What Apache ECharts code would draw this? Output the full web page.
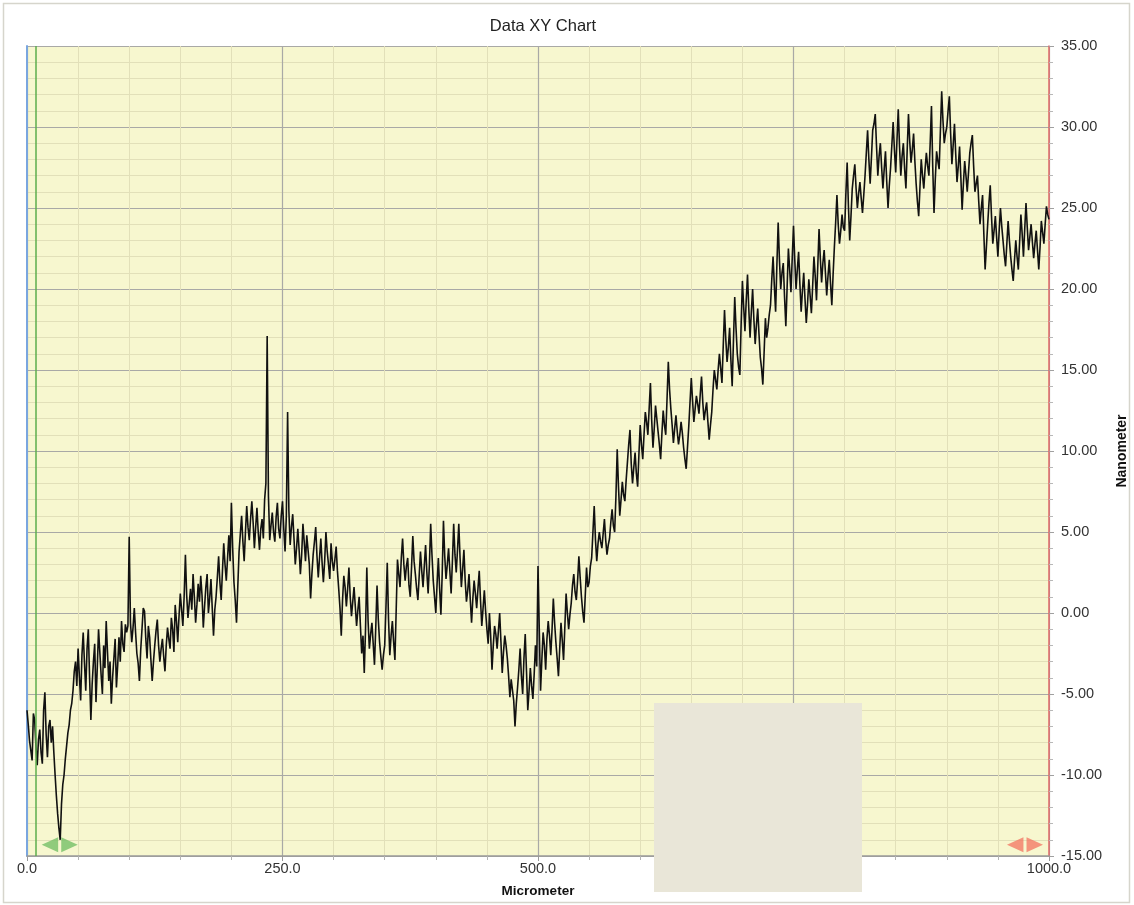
<!DOCTYPE html>
<html>
<head>
<meta charset="utf-8">
<title>Data XY Chart</title>
<script src="https://cdn.jsdelivr.net/npm/echarts@6/dist/echarts.min.js"></script>
<style>
  html, body { margin: 0; padding: 0; background: #ffffff; }
  #chart { width: 1134px; height: 905px; }
</style>
</head>
<body>
<div id="chart"></div>
<script>
// Profile sampled every 1.25 micrometer, height in nanometer (20 samples per row = 25 micrometer)
const STEP_UM = 1.25;
const nanometer = [
  -6.0,-6.9,-7.9,-8.5,-9.1,-6.2,-6.6,-8.2,-9.4,-7.8,-7.2,-8.6,-9.3,-6.0,-4.9,-7.5,-8.9,-7.0,-6.6,-8.0,
  -7.0,-8.6,-10.0,-11.3,-12.4,-13.3,-14.0,-11.8,-10.6,-10.0,-9.0,-8.2,-7.4,-6.9,-6.0,-5.6,-4.8,-3.6,-3.0,-4.5,
  -2.2,-3.9,-5.4,-2.6,-1.2,-3.1,-4.8,-2.2,-1.0,-4.0,-6.6,-4.4,-3.0,-1.9,-5.5,-3.4,-1.0,-2.4,-3.8,-5.0,
  -2.0,-3.4,-0.5,-2.4,-4.2,-3.0,-5.6,-4.0,-2.8,-1.6,-4.6,-3.2,-1.5,-3.0,-0.5,-1.9,-2.4,-0.7,-1.2,-0.8,
  4.7,-0.6,-1.8,-0.9,0.3,-1.2,-2.5,-3.1,-4.2,-2.3,-1.0,0.3,0.1,-1.6,-2.8,-0.8,-1.5,-2.9,-4.2,-3.0,
  -2.0,-1.1,-0.4,-2.0,-3.0,-2.2,-1.6,-2.7,-3.6,-2.0,-0.9,-1.6,-2.2,-0.3,-1.0,-2.4,0.5,-0.5,-1.8,-0.2,
  1.2,0.2,-0.8,1.0,3.6,1.1,-0.3,0.6,1.5,0.2,2.4,1.0,-0.6,0.5,1.8,0.7,2.3,1.1,-0.9,0.4,
  1.6,2.4,0.0,0.9,2.1,0.3,-1.4,0.2,1.0,2.2,3.5,1.9,0.8,2.6,4.3,3.0,2.0,3.4,4.8,3.2,
  6.8,4.0,1.9,0.8,-0.6,1.6,3.8,4.9,6.0,4.4,3.2,5.0,6.6,5.3,4.5,5.8,6.9,5.6,4.0,5.3,
  6.5,5.0,3.9,5.2,5.8,4.6,7.0,8.0,17.1,7.2,4.5,5.4,6.2,5.0,4.4,5.9,6.8,5.2,4.6,6.0,
  6.9,5.2,3.8,6.0,12.4,6.3,4.2,5.3,6.1,4.6,3.0,4.0,5.2,3.9,2.4,3.6,5.5,4.4,3.2,4.8,
  4.9,3.0,0.9,2.4,3.6,4.4,5.3,3.5,2.2,3.4,4.6,3.1,1.9,3.2,5.0,3.8,3.0,2.1,4.3,3.2,
  2.6,3.3,4.1,2.6,1.5,0.3,-1.4,0.8,2.3,1.6,0.4,1.5,2.8,1.0,-0.2,0.7,1.6,0.4,-0.8,0.2,
  1.0,-0.8,-2.5,-1.4,-3.7,-1.0,2.8,-0.5,-2.2,-1.3,-0.6,-1.9,-3.2,-0.9,1.7,-0.4,-1.8,-2.7,-3.5,-2.6,
  -2.0,0.4,3.1,-0.4,-2.6,-1.4,-0.5,-1.8,-2.9,0.2,3.3,2.4,1.6,3.4,4.6,3.0,2.0,2.9,3.4,1.7,
  1.0,2.8,4.75,3.2,2.4,1.5,0.8,2.3,3.8,2.6,1.6,2.9,4.2,2.5,1.2,3.0,5.5,3.6,2.0,1.0,
  0.0,1.8,3.4,1.5,-0.1,2.4,5.7,3.5,2.1,3.0,4.0,2.6,1.2,3.2,5.5,3.6,2.5,3.9,5.5,3.4,
  1.6,2.7,3.9,2.0,0.7,1.4,2.4,0.8,-0.6,0.9,2.0,1.2,0.3,1.5,2.6,0.8,-0.8,0.3,1.4,0.1,
  -1.0,-1.9,0.0,-1.5,-3.5,-2.0,-0.8,-1.3,-2.2,-1.1,0.0,-1.8,-3.7,-2.4,-1.4,-2.0,-2.8,-3.9,-5.2,-4.1,
  -4.0,-5.4,-7.0,-5.6,-4.6,-3.5,-2.2,-3.9,-5.0,-2.8,-1.3,-3.6,-6.0,-4.8,-3.4,-4.5,-5.3,-3.8,-2.0,-3.3,
  2.9,-1.0,-4.8,-2.9,-1.2,-2.0,-3.5,-1.6,-0.5,-1.4,-2.6,-1.0,0.9,-0.6,-1.8,-2.8,-3.9,-2.2,-0.6,-1.7,
  -2.9,-0.9,1.2,0.0,-1.0,-0.1,0.6,1.7,2.4,1.3,0.8,2.0,3.5,2.2,1.0,0.1,-0.6,1.1,2.8,1.6,
  1.9,2.9,3.4,5.0,6.6,4.5,3.2,4.3,5.0,4.4,4.0,4.9,5.8,4.5,3.6,4.2,4.6,5.6,6.4,5.4,
  5.0,7.2,10.1,7.8,6.0,7.0,8.1,7.3,6.9,8.2,9.3,10.4,11.3,9.2,8.0,9.0,9.9,8.6,7.8,9.8,
  11.6,10.4,9.5,11.0,12.4,11.8,11.0,12.6,14.2,11.9,10.2,11.4,12.8,12.0,11.2,10.4,9.5,11.1,12.5,11.6,
  11.0,13.2,15.5,13.8,12.6,11.6,10.5,11.4,12.2,11.2,10.4,11.0,11.8,11.1,10.2,9.5,8.9,10.2,11.5,13.0,
  14.5,13.1,11.8,12.6,13.4,12.9,12.3,13.5,14.6,13.0,11.9,12.5,13.0,11.8,10.7,11.6,12.4,13.8,15.0,14.4,
  13.8,15.0,16.0,15.1,14.2,16.5,18.7,16.9,15.5,16.4,17.6,15.6,14.0,16.8,19.5,17.6,16.0,15.2,14.7,17.8,
  20.5,18.9,17.4,19.3,20.9,18.8,17.0,18.6,20.0,18.1,16.6,17.8,18.8,17.2,15.8,15.1,14.1,16.1,18.2,17.0,
  17.6,18.4,19.0,20.6,22.0,20.2,18.6,21.5,24.1,21.8,20.0,21.0,21.6,19.5,17.7,20.1,22.5,21.2,19.8,21.9,
  23.9,21.8,20.0,21.2,22.3,20.3,18.6,19.9,21.0,19.4,17.9,19.1,20.6,19.6,18.5,20.2,22.0,20.8,19.3,21.4,
  23.7,21.9,20.4,21.6,22.4,21.0,19.6,20.8,21.8,20.3,19.0,20.9,22.6,24.1,25.8,24.0,22.8,23.6,24.6,23.8,
  23.6,25.9,27.8,25.1,23.0,24.5,26.2,27.0,27.7,26.2,25.0,25.9,26.6,25.6,24.7,25.8,27.0,28.4,29.8,28.0,
  26.5,28.1,29.8,30.2,30.8,28.8,27.0,28.2,29.0,27.5,26.2,27.4,28.5,26.6,25.0,26.4,27.5,28.9,30.3,28.6,
  27.2,29.2,31.1,28.8,27.0,28.2,29.0,27.4,26.2,28.6,30.8,29.1,27.8,28.6,29.6,27.9,26.5,25.4,24.5,26.3,
  28.0,27.0,26.2,27.4,28.4,27.6,27.0,29.0,31.3,27.5,24.7,26.8,28.5,27.9,27.4,29.8,32.2,30.4,29.0,29.6,
  30.0,31.0,31.9,29.6,27.7,28.9,30.2,28.3,26.6,27.6,28.8,26.9,24.9,26.5,27.9,27.0,26.0,27.2,28.4,29.0,
  29.5,27.6,26.0,26.5,27.0,25.4,24.0,25.0,25.8,23.4,21.2,22.6,24.0,25.3,26.4,24.5,22.8,23.6,24.5,23.2,
  22.0,23.6,25.0,23.9,23.0,22.1,21.4,22.8,24.2,23.0,22.0,21.2,20.5,21.8,23.0,22.0,21.2,22.9,24.6,23.4,
  22.0,23.7,25.3,23.8,22.4,23.2,24.0,22.9,21.9,22.8,23.6,22.4,21.2,22.6,24.2,23.5,22.8,24.0,25.1,24.6,
  24.3
];
const micrometer = nanometer.map((_, i) => i * STEP_UM);

// Axis ranges and tick spacing
const xRange = [0, 1000];
const xStep = 250;
const yRange = [-15, 35];
const yStep = 5;

// Reference line and the two range cursors
const referenceLineX = 8.5;
const leftCursorX = 32;
const rightCursorX = 976.5;
const cursorY = -14.3;

const FONT = "'Liberation Sans', Arial, Helvetica, sans-serif";

const chart = echarts.init(document.getElementById('chart'), null, { renderer: 'canvas' });

// Two opposed triangles with a thin gap, drawn as one symbol
const cursorPath = 'path://M0,8 L16,0 L16,16 Z M19,0 L35,8 L19,16 Z';

chart.setOption({
  animation: false,
  backgroundColor: '#ffffff',
  title: {
    text: 'Data XY Chart',
    left: 538,
    top: 13,
    textAlign: 'center',
    textStyle: { fontFamily: FONT, fontSize: 16.5, fontWeight: 'normal', color: '#222222' }
  },
  grid: {
    left: 27, right: 85, top: 46, bottom: 49,
    outerBoundsMode: 'none',
    containLabel: false,
    show: true,
    backgroundColor: '#f7f7cf',
    borderWidth: 0
  },
  xAxis: {
    type: 'value',
    min: xRange[0], max: xRange[1], interval: xStep,
    name: 'Micrometer',
    nameLocation: 'middle',
    nameGap: 28,
    nameTextStyle: { fontFamily: FONT, fontSize: 13.5, fontWeight: 'bold', color: '#111111' },
    axisLine: { show: true, onZero: false, lineStyle: { color: '#9a9a9a', width: 1.5 } },
    axisTick: { show: true, length: 5, lineStyle: { color: '#9a9a9a' } },
    minorTick: { show: true, splitNumber: 5, length: 4, lineStyle: { color: '#b4b4b4' } },
    axisLabel: {
      fontFamily: FONT, fontSize: 14.5, color: '#333333', margin: 5,
      formatter: v => v.toFixed(1)
    },
    splitLine: { show: true, lineStyle: { color: '#a9a9a6', width: 1.2 } },
    minorSplitLine: { show: true, lineStyle: { color: '#e2e0b9', width: 1 } }
  },
  yAxis: [
    {
      type: 'value',
      position: 'right',
      min: yRange[0], max: yRange[1], interval: yStep,
      name: 'Nanometer',
      nameLocation: 'middle',
      nameRotate: 90,
      nameGap: 66,
      nameTextStyle: { fontFamily: FONT, fontSize: 14, fontWeight: 'bold', color: '#111111' },
      axisLine: { show: true, onZero: false, lineStyle: { color: '#e06a6a', width: 1.5 } },
      axisTick: { show: true, length: 5, lineStyle: { color: '#a0a0a0' } },
      minorTick: { show: true, splitNumber: 5, length: 4, lineStyle: { color: '#b8b8b8' } },
      axisLabel: {
        fontFamily: FONT, fontSize: 14.5, color: '#333333', margin: 12,
        formatter: v => v.toFixed(2)
      },
      splitLine: { show: true, lineStyle: { color: '#a9a9a6', width: 1.2 } },
      minorSplitLine: { show: true, lineStyle: { color: '#e2e0b9', width: 1 } }
    },
    {
      type: 'value',
      position: 'left',
      min: yRange[0], max: yRange[1], interval: yStep,
      axisLine: { show: true, onZero: false, lineStyle: { color: '#7aa6df', width: 2 } },
      axisTick: { show: false },
      axisLabel: { show: false },
      splitLine: { show: false }
    }
  ],
  series: [
    {
      type: 'line',
      name: 'Profile',
      data: micrometer.map((x, i) => [x, nanometer[i]]),
      showSymbol: false,
      symbol: 'none',
      lineStyle: { color: '#111111', width: 1.6 },
      z: 3,
      markLine: {
        silent: true,
        symbol: 'none',
        label: { show: false },
        lineStyle: { color: '#5cae4c', width: 1.5, type: 'solid' },
        data: [{ xAxis: referenceLineX }]
      }
    },
    {
      type: 'scatter',
      name: 'Cursors',
      symbol: cursorPath,
      symbolSize: [36, 15],
      z: 4,
      silent: true,
      data: [
        { value: [leftCursorX, cursorY], itemStyle: { color: '#74bf66' } },
        { value: [rightCursorX, cursorY], itemStyle: { color: '#f27a66' } }
      ]
    }
  ],
  graphic: [
    {
      type: 'rect',
      z: 100,
      shape: { x: 3.5, y: 3.5, width: 1126, height: 899 },
      style: { fill: 'none', stroke: '#d6d5cc', lineWidth: 1.5 }
    },
    {
      type: 'rect',
      z: 100,
      shape: { x: 654, y: 703, width: 208, height: 189 },
      style: { fill: '#e9e6d8' }
    }
  ]
});
</script>
</body>
</html>
